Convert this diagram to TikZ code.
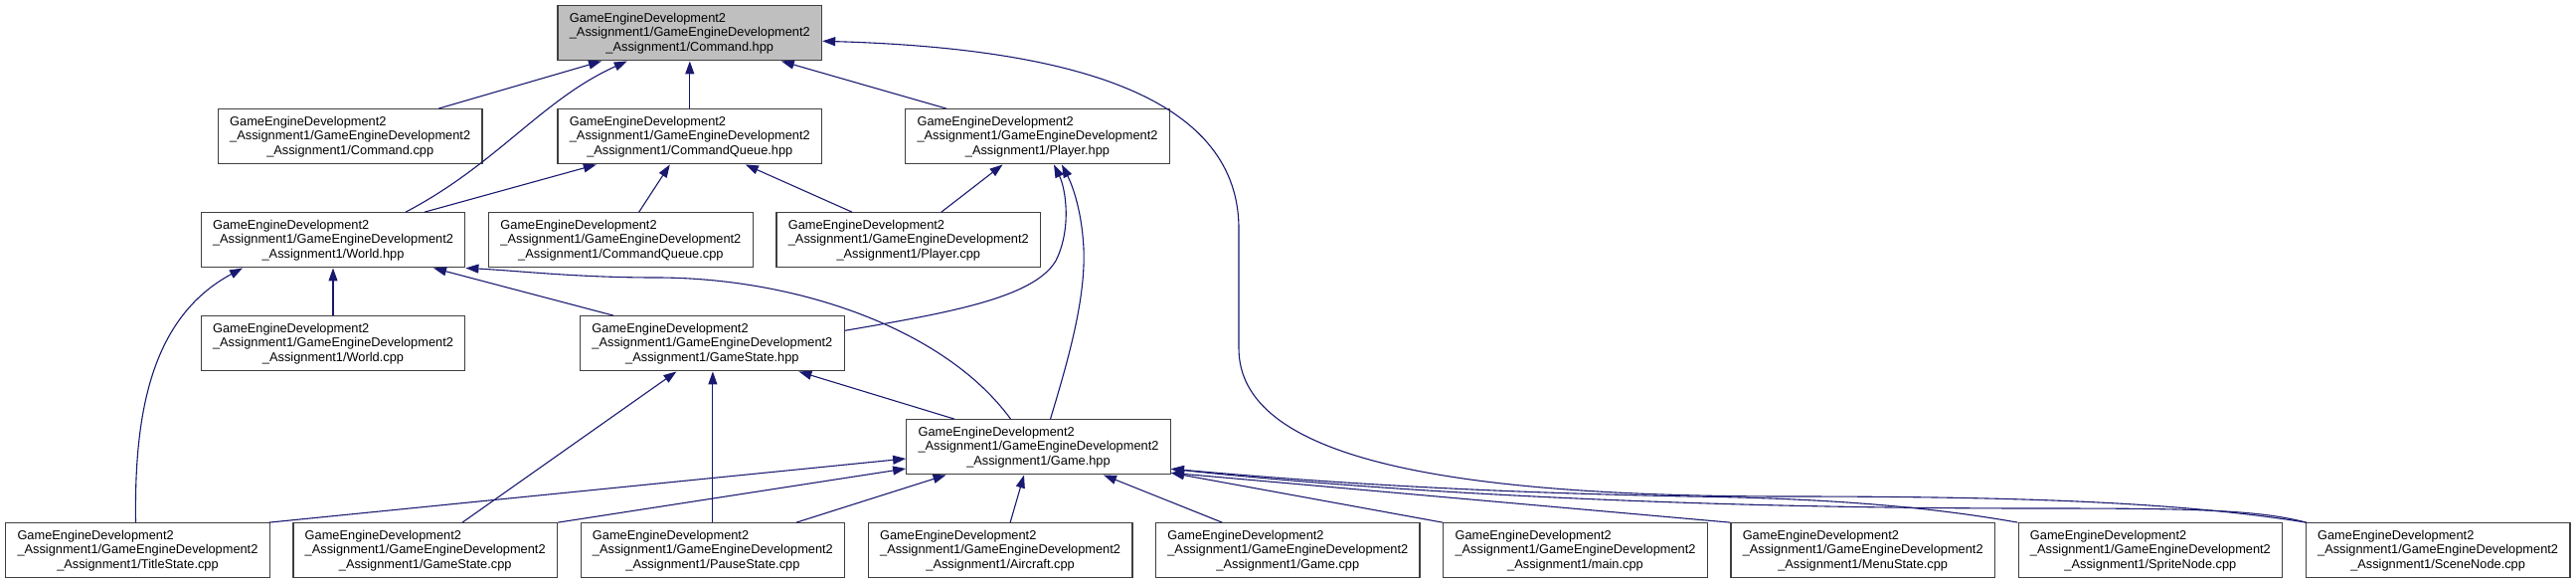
\documentclass[tikz,border=0pt]{standalone}
\usepackage{fontspec}
\setmainfont{Liberation Sans}
\usetikzlibrary{arrows.meta,calc}
\definecolor{edgec}{HTML}{191970}
\definecolor{boxc}{HTML}{404040}
\definecolor{topfill}{HTML}{BFBFBF}
\newcommand{\flbl}[1]{\makebox[0pt][l]{GameEngineDevelopment2}\phantom{\_Assignment1/GameEngineDevelopment2}\\\_Assignment1/GameEngineDevelopment2\\\_Assignment1/#1}
\tikzset{
  filebox/.style={draw=boxc, line width=1.3pt, fill=white, minimum width=265.5pt, minimum height=55pt,
    inner sep=0pt, align=center, font=\fontsize{12.8}{14.5}\selectfont},
  topbox/.style={filebox, fill=topfill},
  edge/.style={draw=edgec, line width=1.1pt, -{Triangle[length=13pt,width=9pt]}}
}
\begin{document}
\begin{tikzpicture}[x=1pt,y=-1pt]
\useasboundingbox (0,0) rectangle (2591,587);
% row 1
\node[topbox]  (cmdh)   at (693.8,33.3)  {\flbl{Command.hpp}};
% row 2
\node[filebox] (cmdcpp) at (352.2,137.3) {\flbl{Command.cpp}};
\node[filebox] (cqh)    at (693.8,137.3) {\flbl{CommandQueue.hpp}};
\node[filebox] (plh)    at (1043.5,137.3) {\flbl{Player.hpp}};
% row 3
\node[filebox] (wh)     at (335,241.3)   {\flbl{World.hpp}};
\node[filebox] (cqcpp)  at (624.4,241.3) {\flbl{CommandQueue.cpp}};
\node[filebox] (plcpp)  at (913.8,241.3) {\flbl{Player.cpp}};
% row 4
\node[filebox] (wcpp)   at (335,345.3)   {\flbl{World.cpp}};
\node[filebox] (gsh)    at (716.4,345.3) {\flbl{GameState.hpp}};
% row 5
\node[filebox] (gh)     at (1044.5,449.3) {\flbl{Game.hpp}};
% row 6
\node[filebox] (tsc)    at (138.5,553.3)  {\flbl{TitleState.cpp}};
\node[filebox] (gsc)    at (427.7,553.3)  {\flbl{GameState.cpp}};
\node[filebox] (psc)    at (716.9,553.3)  {\flbl{PauseState.cpp}};
\node[filebox] (acc)    at (1006.1,553.3) {\flbl{Aircraft.cpp}};
\node[filebox] (gcpp)   at (1295.3,553.3) {\flbl{Game.cpp}};
\node[filebox] (mcpp)   at (1584.5,553.3) {\flbl{main.cpp}};
\node[filebox] (msc)    at (1873.7,553.3) {\flbl{MenuState.cpp}};
\node[filebox] (snc)    at (2162.9,553.3) {\flbl{SpriteNode.cpp}};
\node[filebox] (scn)    at (2452.1,553.3) {\flbl{SceneNode.cpp}};

% edges into Command.hpp
\draw[edge] ($(cmdcpp.north)+(88.8,0)$) -- ($(cmdh.south)+(-88.8,0)$);
\draw[edge] ($(wh.north)+(73,0)$) .. controls (500,165) and (545,100) .. ($(cmdh.south)+(-63,0)$);
\draw[edge] (cqh.north) -- (cmdh.south);
\draw[edge] ($(plh.north)+(-91.5,0)$) -- ($(cmdh.south)+(92,0)$);
\draw[edge] ($(scn.north west)+(1,0)$) .. controls (2200,506) and (2050,499) .. (1800,499)
  .. controls (1450,499) and (1246,460) .. (1246,350) -- (1246,230)
  .. controls (1246,90) and (1060,48) .. ($(cmdh.east)+(0,8)$);
% edges into CommandQueue.hpp
\draw[edge] ($(wh.north)+(92,0)$) -- ($(cqh.south)+(-94,0)$);
\draw[edge] ($(cqcpp.north)+(18.3,0)$) -- ($(cqh.south)+(-20,0)$);
\draw[edge] ($(plcpp.north)+(-56.8,0)$) -- ($(cqh.south)+(56,0)$);
% edges into Player.hpp
\draw[edge] ($(plcpp.north)+(33,0)$) -- ($(plh.south)+(-35,0)$);
\draw[edge] ($(gsh.east)+(0,-13)$) .. controls (950,315) and (1040,300) .. (1062,262)
  .. controls (1078,230) and (1072,190) .. ($(plh.south)+(16.5,0)$);
\draw[edge] ($(gh.north)+(12,0)$) .. controls (1075,360) and (1092,300) .. (1090,250)
  .. controls (1088,210) and (1078,185) .. ($(plh.south)+(24.5,0)$);
% edges into World.hpp
\draw[edge] (wcpp.north) -- (wh.south);
\draw[edge] ($(gsh.north)+(-99.3,0)$) -- ($(wh.south)+(101,0)$);
\draw[edge] ($(gh.north)+(-28,0)$) .. controls (950,330) and (800,279) .. (660,279)
  .. controls (580,279) and (520,272) .. (wh.south east);
\draw[edge] ($(tsc.north)+(-2,0)$) .. controls (135,420) and (150,320) .. ($(wh.south)+(-91,0)$);
% edges into GameState.hpp
\draw[edge] ($(gsc.north)+(37.3,0)$) -- ($(gsh.south)+(-36,0)$);
\draw[edge] (psc.north) -- (psc.north |- gsh.south);
\draw[edge] ($(gh.north)+(-84.5,0)$) -- ($(gsh.south)+(87,0)$);
% edges into Game.hpp
\draw[edge] ($(tsc.north east)+(-1.5,0)$) -- ($(gh.west)+(0,11.7)$);
\draw[edge] (gsc.north east) -- ($(gh.west)+(0,21.7)$);
\draw[edge] ($(psc.north)+(84,0)$) -- ($(gh.south)+(-93,0)$);
\draw[edge] ($(acc.north)+(10,0)$) -- ($(gh.south)+(-14.5,0)$);
\draw[edge] ($(gcpp.north)+(-66,0)$) -- ($(gh.south)+(65.5,0)$);
\draw[edge] (mcpp.north west) -- ($(gh.east)+(0,26)$);
\draw[edge] (msc.north west) -- ($(gh.east)+(0,26)$);
\draw[edge] (snc.north west) .. controls (1950,511) and (1850,501) .. (1700,499)
  .. controls (1450,494) and (1300,482) .. ($(gh.east)+(0,22)$);
\draw[edge] ($(scn.north west)+(1,0)$) .. controls (2270,512) and (2200,511) .. (2050,511)
  .. controls (1650,511) and (1350,490) .. ($(gh.east)+(0,22)$);
\end{tikzpicture}
\end{document}
